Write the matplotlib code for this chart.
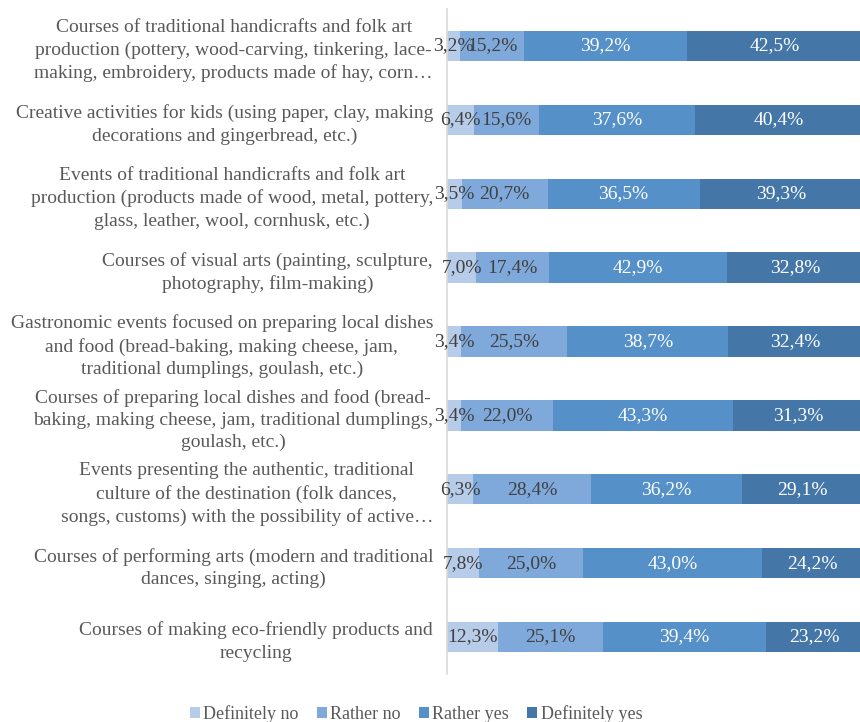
import matplotlib
matplotlib.use("Agg")
import matplotlib.pyplot as plt
import numpy as np

categories = [
    "Courses of traditional handicrafts and folk art\nproduction (pottery, wood-carving, tinkering, lace-\nmaking, embroidery, products made of hay, corn\u2026",
    "Creative activities for kids (using paper, clay, making\ndecorations and gingerbread, etc.)",
    "Events of traditional handicrafts and folk art\nproduction (products made of wood, metal, pottery,\nglass, leather, wool, cornhusk, etc.)",
    "Courses of visual arts (painting, sculpture,\nphotography, film-making)",
    "Gastronomic events focused on preparing local dishes\nand food (bread-baking, making cheese, jam,\ntraditional dumplings, goulash, etc.)",
    "Courses of preparing local dishes and food (bread-\nbaking, making cheese, jam, traditional dumplings,\ngoulash, etc.)",
    "Events presenting the authentic, traditional\nculture of the destination (folk dances,\nsongs, customs) with the possibility of active\u2026",
    "Courses of performing arts (modern and traditional\ndances, singing, acting)",
    "Courses of making eco-friendly products and\nrecycling",
]
series_names = ["Definitely no", "Rather no", "Rather yes", "Definitely yes"]
definitely_no = [3.2, 6.4, 3.5, 7.0, 3.4, 3.4, 6.3, 7.8, 12.3]
rather_no = [15.2, 15.6, 20.7, 17.4, 25.5, 22.0, 28.4, 25.0, 25.1]
rather_yes = [39.2, 37.6, 36.5, 42.9, 38.7, 43.3, 36.2, 43.0, 39.4]
definitely_yes = [42.5, 40.4, 39.3, 32.8, 32.4, 31.3, 29.1, 24.2, 23.2]

colors = ["#B7CCE9", "#7FA9DB", "#5590C8", "#4477A8"]
text_colors = ["#404040", "#404040", "white", "white"]

plt.rcParams['font.family'] = ['Liberation Serif', 'DejaVu Serif']

fig = plt.figure(figsize=(8.6, 7.22), dpi=100)
W, H = 860, 722
ax = fig.add_axes([447 / W, 1 - 674 / H, (863 - 447) / W, (674 - 9) / H])

y = np.arange(len(categories))
left = np.zeros(len(categories))
for vals, name, c, tc in zip([definitely_no, rather_no, rather_yes, definitely_yes],
                             series_names, colors, text_colors):
    vals = np.array(vals)
    ax.barh(y, vals, left=left, height=0.41, color=c, label=name)
    for yi, l, v in zip(y, left, vals):
        ax.text(l + v / 2, yi, f"{v:.1f}%".replace(".", ","), ha="center", va="center",
                fontsize=14, color=tc)
    left += vals

ax.set_xlim(0, 100)
ax.set_ylim(len(categories) - 0.5, -0.5)
ax.set_yticks(y)
ax.set_yticklabels(categories, fontsize=14, color="#595959", ha="right",
                   multialignment="center", linespacing=1.4)
ax.tick_params(axis="y", length=0, pad=10)
ax.set_xticks([])
for s in ["top", "right", "bottom"]:
    ax.spines[s].set_visible(False)
ax.spines["left"].set_color("#D9D9D9")
ax.spines["left"].set_linewidth(1.2)

fig.legend(loc="center", bbox_to_anchor=(416 / W, 1 - 714 / H), ncol=4, frameon=False,
           fontsize=13, handlelength=0.55, handleheight=0.55, columnspacing=1.0,
           handletextpad=0.2, labelcolor="#595959")

fig.savefig("out.png", dpi=100)
